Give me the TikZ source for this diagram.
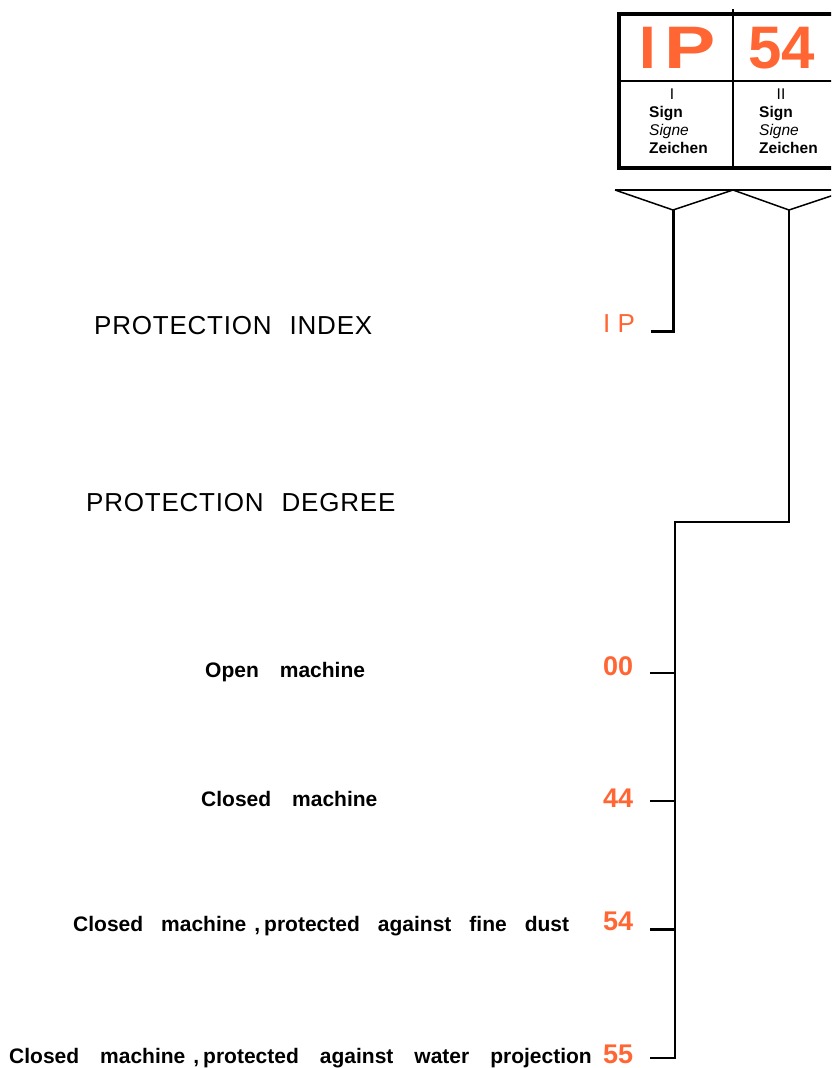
\documentclass[tikz,border=0pt]{standalone}
\usepackage{fontspec}
\setmainfont{Liberation Sans}
\definecolor{ipor}{HTML}{FF6633}
\newcommand\wgap{\hspace{21pt}}
\newcommand\ngap{\hspace{18pt}}
\begin{document}
\begin{tikzpicture}[x=1pt,y=-1pt,
  lab/.style={inner sep=0pt, anchor=base west, font=\fontsize{21}{24}\selectfont\bfseries},
  head/.style={inner sep=0pt, anchor=base west, font=\fontsize{26}{30}\selectfont\addfontfeature{LetterSpace=3}},
  num/.style={inner sep=0pt, anchor=base west, text=ipor, font=\fontsize{27}{30}\selectfont\bfseries},
  big/.style={inner sep=0pt, anchor=base west, text=ipor, font=\fontsize{60}{64}\selectfont\bfseries},
  small/.style={inner sep=0pt, anchor=base west, font=\fontsize{15.5}{18}\selectfont},
  roman/.style={inner sep=0pt, anchor=base, font=\fontsize{15.5}{18}\selectfont},
  conn/.style={line width=2pt, line join=miter},
  thickconn/.style={line width=3pt, line join=miter},
  bracket/.style={line width=1.5pt, line join=miter},
]
\useasboundingbox (0,0) rectangle (831,1068);
\clip (0,0) rectangle (831,1068);

% header box
\draw[line width=4pt] (619,14) rectangle (870,168);
\draw[line width=1.5pt] (619,81) -- (870,81);
\draw[line width=1.5pt] (733,9) -- (733,168);
\node[big] (bigip) at (639,68) {I\hspace{9pt}\scalebox{1.28}[1]{P}};
\node[big] (big54) at (748,68) {54};
\node[roman] (r1) at (672,99) {I};
\node[small] (s1a) at (649,117) {\bfseries Sign};
\node[small] (s1b) at (649,135) {\itshape Signe};
\node[small] (s1c) at (649,153) {\bfseries Zeichen};
\node[roman] (r2) at (781,99) {II};
\node[small] (s2a) at (759,117) {\bfseries Sign};
\node[small] (s2b) at (759,135) {\itshape Signe};
\node[small] (s2c) at (759,153) {\bfseries Zeichen};

% bracket
\coordinate (bl) at (615,190);
\coordinate (bm) at (733,190);
\coordinate (br) at (849,190);
\coordinate (v1) at (673,210);
\coordinate (v2) at (789,210);
\draw[bracket] (bl) -- (br);
\draw[bracket] (bl) -- (v1) -- (bm) -- (v2) -- (br);

% headings
\node[head] (hidx) at (94,334) {PROTECTION\hspace{18pt}INDEX};
\node[head] (hdeg) at (86,511) {PROTECTION\hspace{18pt}DEGREE};

% IP label and connector
\node[inner sep=0pt, anchor=base west, text=ipor, font=\fontsize{26}{30}\selectfont] (ipl) at (603,332) {I P};
\coordinate (tip) at (651,331);
\draw[thickconn] (v1) |- (tip);

% degree labels
\node[lab] (l00) at (205,677) {Open\wgap machine};
\node[lab] (l44) at (201,806) {Closed\wgap machine};
\node[lab] (l54) at (73,931) {Closed\ngap machine\hspace{8pt},\hspace{4pt}protected\ngap against\ngap fine\ngap dust};
\node[lab] (l55) at (9,1063) {Closed\wgap machine\hspace{8pt},\hspace{4pt}protected\wgap against\wgap water\wgap projection};

\node[num] (n00) at (603,675) {00};
\node[num] (n44) at (603,807) {44};
\node[num] (n54) at (603,930) {54};
\node[num] (n55) at (603,1063) {55};

% connector for degree
\coordinate (c1) at (789,522);
\coordinate (c2) at (675,522);
\coordinate (t00) at (650,673);
\coordinate (t44) at (650,801);
\coordinate (t54) at (650,929);
\coordinate (t55) at (650,1058);
\draw[conn] (v2) -- (c1) -- (c2) |- (t55);
\draw[conn] (t00) -- (t00 -| c2);
\draw[conn] (t44) -- (t44 -| c2);
\draw[thickconn] (t54) -- (t54 -| c2);
\end{tikzpicture}
\end{document}
